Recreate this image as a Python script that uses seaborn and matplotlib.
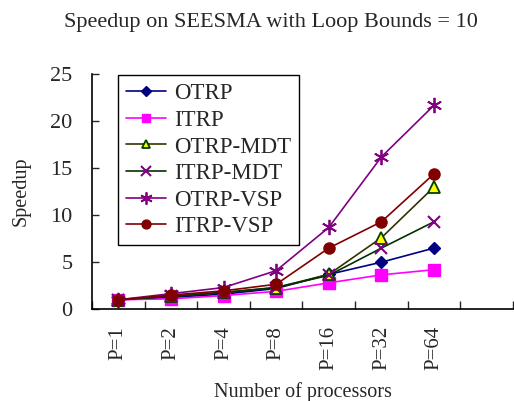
import numpy as np
import pandas as pd
import seaborn as sns
import matplotlib
matplotlib.use("Agg")
import matplotlib.pyplot as plt

categories = ["P=1", "P=2", "P=4", "P=8", "P=16", "P=32", "P=64"]
otrp = [1.0, 1.25, 1.6, 2.2, 3.7, 5.0, 6.5]
itrp = [1.0, 1.1, 1.45, 1.9, 2.8, 3.65, 4.2]
otrp_mdt = [1.0, 1.4, 1.8, 2.3, 3.7, 7.6, 13.0]
itrp_mdt = [1.0, 1.35, 1.75, 2.3, 3.6, 6.5, 9.3]
otrp_vsp = [1.0, 1.65, 2.3, 4.1, 8.7, 16.2, 21.7]
itrp_vsp = [1.0, 1.5, 1.95, 2.65, 6.5, 9.3, 14.4]

series = {
    "OTRP": otrp,
    "ITRP": itrp,
    "OTRP-MDT": otrp_mdt,
    "ITRP-MDT": itrp_mdt,
    "OTRP-VSP": otrp_vsp,
    "ITRP-VSP": itrp_vsp,
}

styles = {
    "OTRP": dict(color="#000080", marker="D", markersize=6, mfc="#000080", mec="#000080"),
    "ITRP": dict(color="#FF00FF", marker="s", markersize=8, mfc="#FF00FF", mec="#FF00FF"),
    "OTRP-MDT": dict(color="#333300", marker="^", markersize=8, mfc="#FFFF00", mec="#004000", mew=1.3),
    "ITRP-MDT": dict(color="#003300", marker="x", markersize=9, mfc="#800080", mec="#800080", mew=1.5),
    "OTRP-VSP": dict(color="#800080", marker=(6, 2, 0), markersize=11, mfc="#800080", mec="#800080", mew=1.3),
    "ITRP-VSP": dict(color="#800000", marker="o", markersize=8, mfc="#800000", mec="#800000"),
}

rows = []
for name, vals in series.items():
    for c, v in zip(categories, vals):
        rows.append({"series": name, "cat": c, "speedup": v})
df = pd.DataFrame(rows)

sns.set_style("white")
plt.rcParams["font.family"] = ["Liberation Serif", "DejaVu Serif"]

fig = plt.figure(figsize=(5.14, 4.01), dpi=100)
ax = fig.add_axes([0.179, 0.229, 0.819, 0.586])

for name in series:
    st = styles[name]
    sub = df[df["series"] == name]
    sns.lineplot(data=sub, x="cat", y="speedup", ax=ax, color=st["color"],
                 marker=st["marker"], markersize=st["markersize"],
                 markerfacecolor=st["mfc"], markeredgecolor=st["mec"],
                 markeredgewidth=st.get("mew", 1.0), linewidth=1.2,
                 label=name, sort=False)

ax.set_xlim(-0.5, 7.5)
ax.set_ylim(0, 25)
ax.set_yticks([0, 5, 10, 15, 20, 25])
ax.tick_params(axis="y", direction="in", length=5, width=1, labelsize=16, pad=14, left=True)

ax.set_xticks(np.arange(-0.5, 8.0, 1.0))
ax.set_xticklabels([""] * 9)
ax.set_xticks(np.arange(len(categories)), minor=True)
ax.set_xticklabels(categories, minor=True, rotation=90, fontsize=15)
ax.tick_params(axis="x", which="major", direction="in", length=6, width=1, bottom=True)
ax.tick_params(axis="x", which="minor", length=0, pad=12)

for s in ["top", "right"]:
    ax.spines[s].set_visible(False)
for s in ["left", "bottom"]:
    ax.spines[s].set_color("black")
    ax.spines[s].set_linewidth(1.2)
ax.grid(False)

ax.set_xlabel("Number of processors", fontsize=14.5, labelpad=9)
ax.set_ylabel("Speedup", fontsize=14.5, labelpad=14)
fig.suptitle("Speedup on SEESMA with Loop Bounds = 10", fontsize=16, x=0.528, y=0.967)

leg = ax.legend(loc="upper left", bbox_to_anchor=(0.062, 0.995), fontsize=16.5,
                frameon=True, fancybox=False, edgecolor="black", framealpha=1,
                handlelength=1.75, borderpad=0.35, labelspacing=0.24, handletextpad=0.35,
                borderaxespad=0, markerscale=0.8)
leg.get_frame().set_linewidth(1.0)

fig.savefig("out.png", dpi=100)
